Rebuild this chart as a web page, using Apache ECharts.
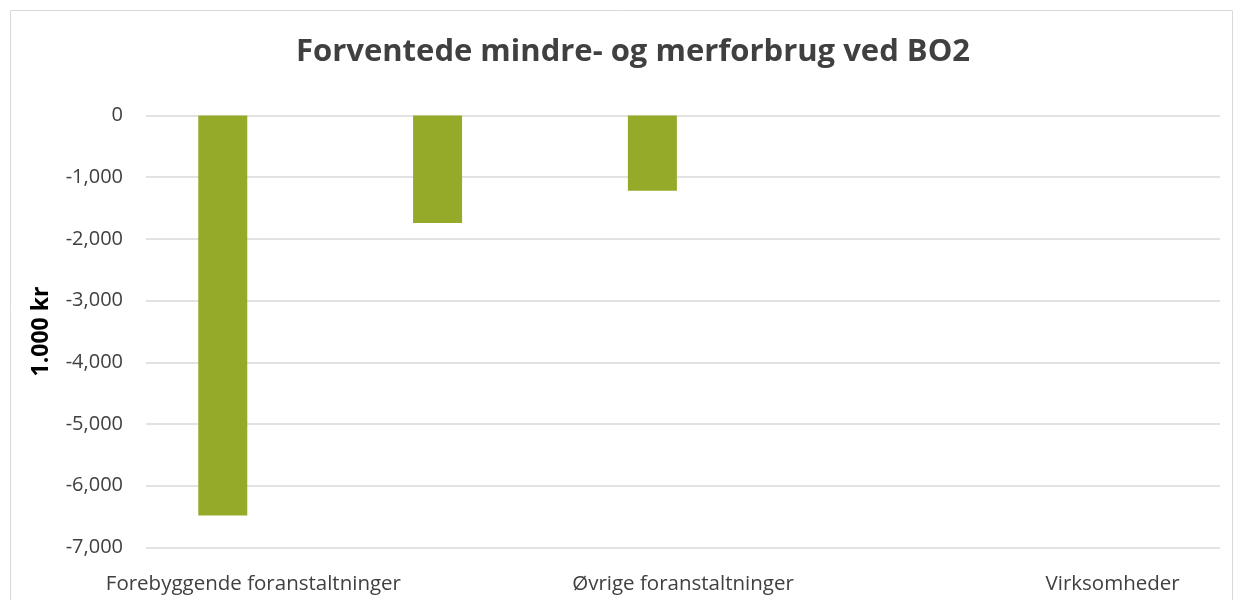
<!DOCTYPE html>
<html>
<head>
<meta charset="utf-8">
<script src="https://cdn.jsdelivr.net/npm/echarts@6/dist/echarts.min.js"></script>
<style>
  html, body { margin: 0; padding: 0; background: #fff; }
  #chart { width: 1234px; height: 600px; }
</style>
</head>
<body>
<div id="chart"></div>
<script>
const categories = ['Forebyggende foranstaltninger', '', 'Øvrige foranstaltninger', '', 'Virksomheder'];
const mindreforbrug = [-6480, -1740, -1220, 0, 0];
const merforbrug = [0, 0, 0, 0, 0];
const yTicks = { min: -7000, max: 0, interval: 1000 };

const chart = echarts.init(document.getElementById('chart'));
const font = '"Open Sans", sans-serif';

const options = {
  animation: false,
  title: {
    text: 'Forventede mindre- og merforbrug ved BO2',
    left: 291,
    top: 32,
    textStyle: { fontFamily: font, fontWeight: 'bold', fontSize: 31, color: '#404040' },
  },
  graphic: [
    {
      type: 'rect',
      shape: { x: 10.5, y: 10.5, width: 1222, height: 600 },
      style: { fill: 'none', stroke: '#d9d9d9', lineWidth: 1 },
      silent: true,
    },
  ],
  grid: { left: 146, right: 14, top: 115.5, bottom: 52.5 },
  xAxis: {
    type: 'category',
    data: categories,
    axisLine: { show: false },
    axisTick: { show: false },
    axisLabel: { interval: 0, margin: 26, fontFamily: font, fontSize: 20.5, color: '#404040' },
  },
  yAxis: {
    type: 'value',
    min: yTicks.min,
    max: yTicks.max,
    interval: yTicks.interval,
    name: '1.000 kr',
    nameLocation: 'middle',
    nameGap: 93,
    nameRotate: 90,
    nameTextStyle: { fontFamily: font, fontWeight: 'bold', fontSize: 23, color: '#000' },
    axisLine: { show: false },
    axisTick: { show: false },
    splitLine: { lineStyle: { color: '#d9d9d9', width: 1.5 } },
    axisLabel: {
      margin: 23,
      fontFamily: font,
      fontSize: 20,
      color: '#404040',
      formatter: (v) => v.toLocaleString('en-US'),
    },
  },
  series: [
    {
      name: 'Mindreforbrug',
      type: 'bar',
      data: mindreforbrug,
      barWidth: 49,
      barGap: '25%',
      itemStyle: { color: '#95aa28' },
    },
    {
      name: 'Merforbrug',
      type: 'bar',
      data: merforbrug,
      barWidth: 49,
      itemStyle: { color: '#c0504d' },
    },
  ],
};

chart.setOption(options);
</script>
</body>
</html>
